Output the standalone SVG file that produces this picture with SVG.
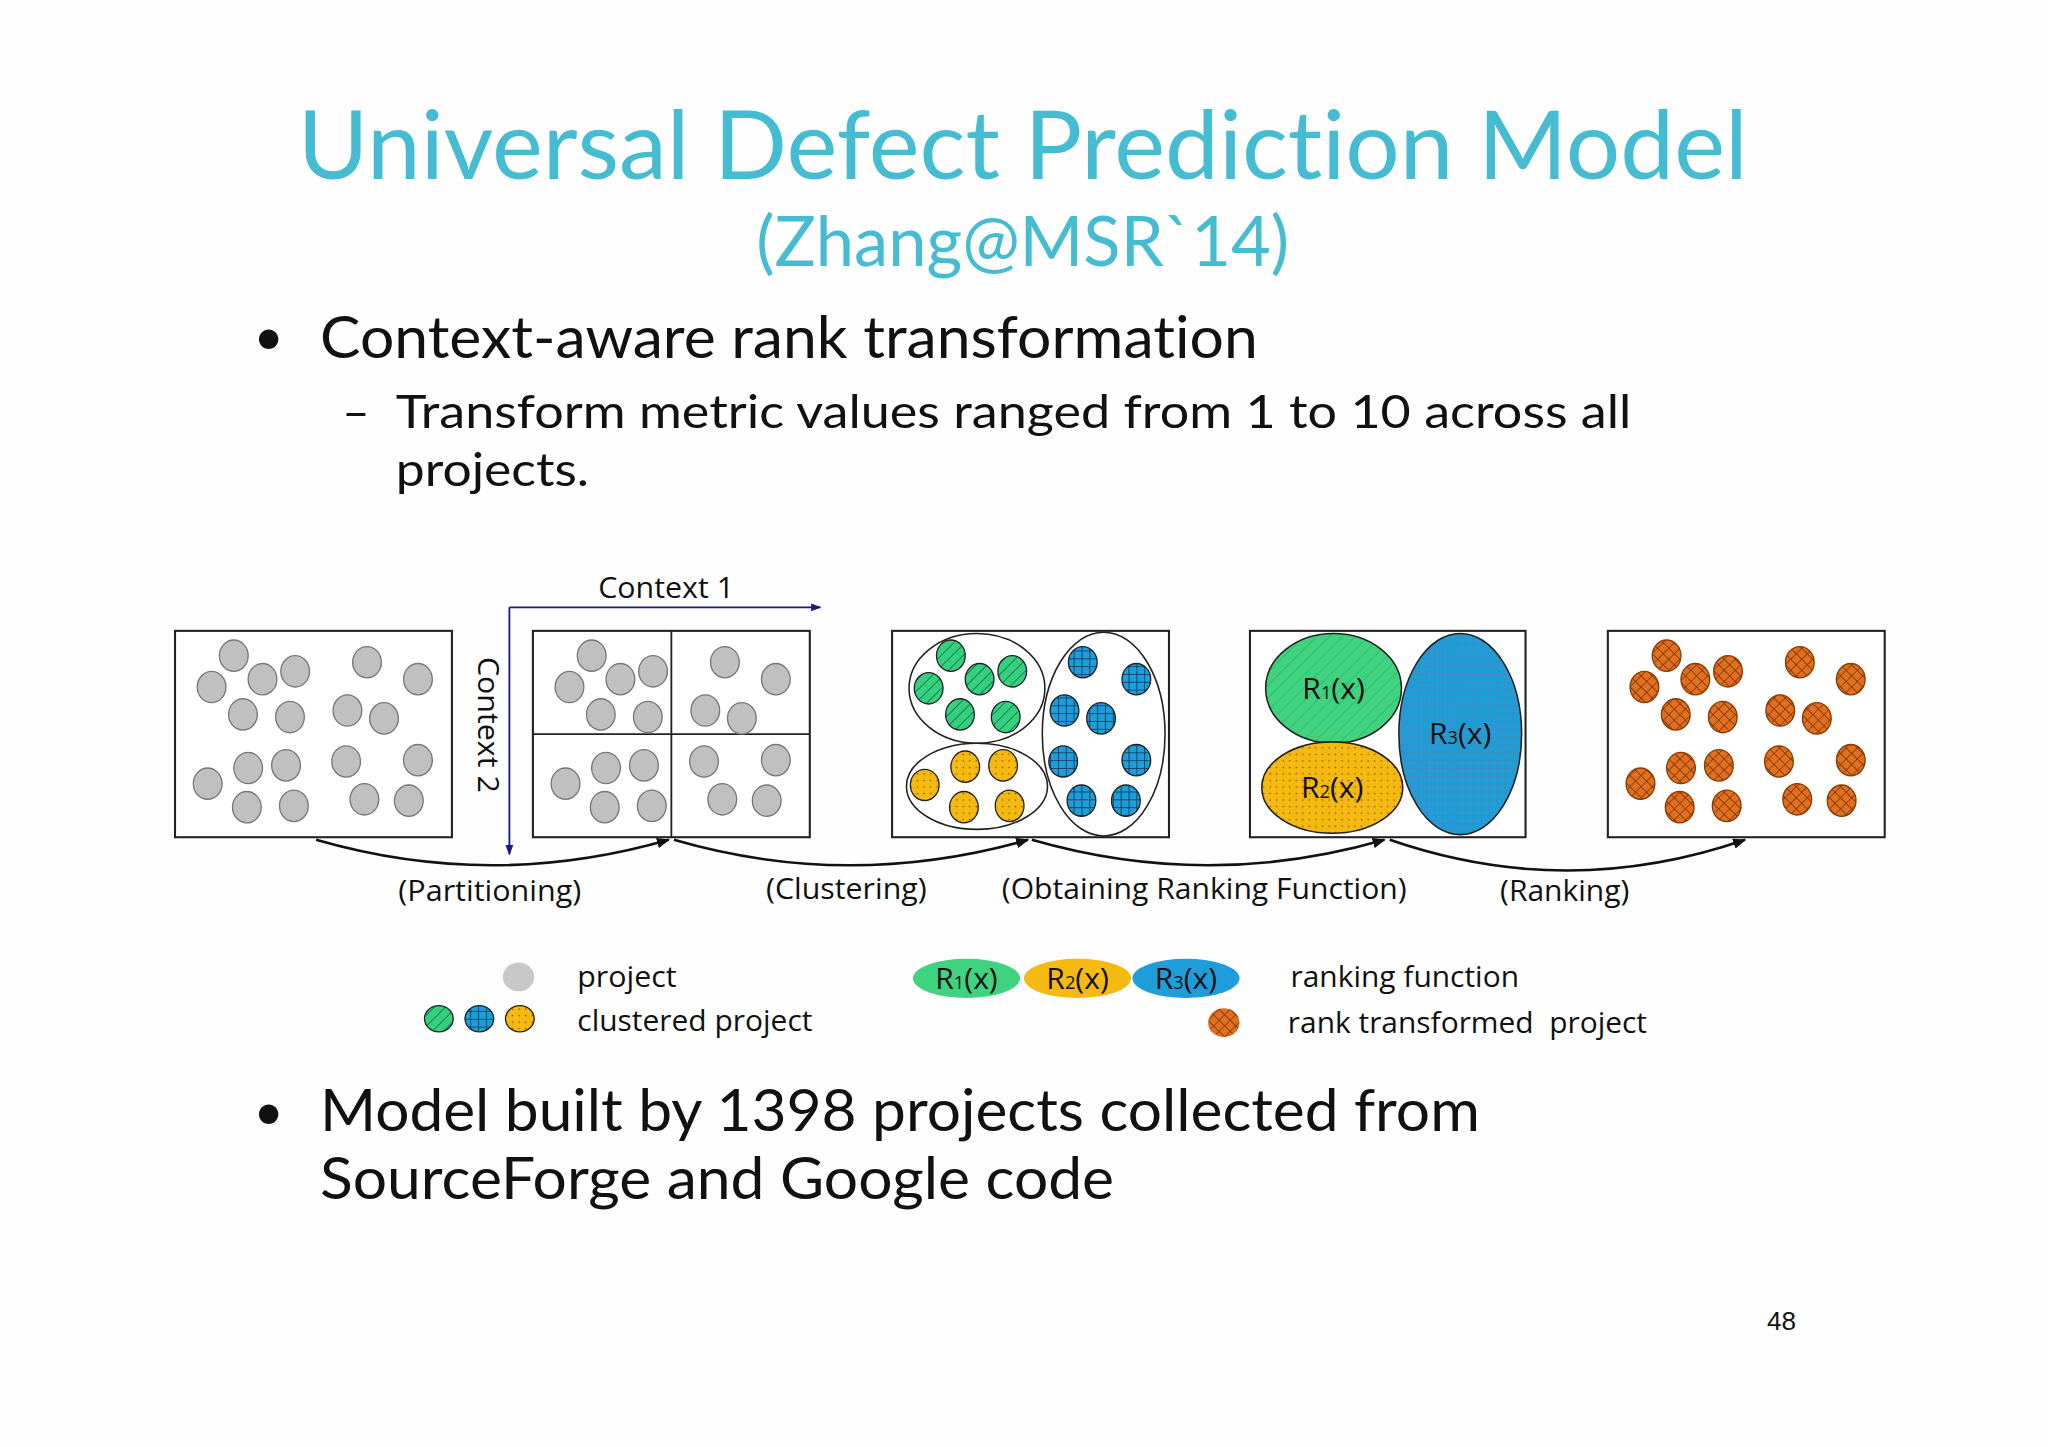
<svg xmlns="http://www.w3.org/2000/svg" width="2048" height="1447" viewBox="0 0 2048 1447">
<style>
.t{font-family:Lato,"Open Sans",sans-serif;font-variant-ligatures:none;font-feature-settings:"liga" 0,"dlig" 0}
.c{font-family:"Open Sans","Liberation Sans",sans-serif;font-size:23px;fill:#111}
.box{fill:#fff;stroke:#222;stroke-width:1.6}
.g{fill:#c0c0c0;stroke:#777;stroke-width:1}
.gr{fill:url(#hatch);stroke:#222;stroke-width:1}
.bl{fill:url(#grid);stroke:#222;stroke-width:1}
.or{fill:url(#dots);stroke:#222;stroke-width:1}
.br{fill:url(#xh);stroke:#8a3a00;stroke-width:1}
.conn{fill:none;stroke:#111;stroke-width:2;marker-end:url(#ah)}
.ell{fill:none;stroke:#222;stroke-width:1.2}
</style>
<defs>
<pattern id="hatch" width="6" height="6" patternUnits="userSpaceOnUse" patternTransform="rotate(45)"><rect width="6" height="6" fill="#33d17f"/><line x1="0" y1="0" x2="0" y2="6" stroke="#1d6b3f" stroke-width="1.3"/></pattern>
<pattern id="hatchL" width="7" height="7" patternUnits="userSpaceOnUse" patternTransform="rotate(45)"><rect width="7" height="7" fill="#3fd37f"/><line x1="0" y1="0" x2="0" y2="7" stroke="#2aa860" stroke-width="0.8"/></pattern>
<pattern id="grid" width="6" height="6" patternUnits="userSpaceOnUse"><rect width="6" height="6" fill="#1e9ddb"/><path d="M0 0H6M0 0V6" stroke="#10314a" stroke-width="1.2"/></pattern>
<pattern id="gridL" width="6" height="6" patternUnits="userSpaceOnUse"><rect width="6" height="6" fill="#1e9ddb"/><path d="M0 0H6M0 0V6" stroke="#5d7f96" stroke-width="0.8"/></pattern>
<pattern id="dots" width="5" height="5" patternUnits="userSpaceOnUse"><rect width="5" height="5" fill="#f6b90f"/><circle cx="2.5" cy="2.5" r="0.6" fill="#6b4d00"/></pattern>
<pattern id="xh" width="6" height="6" patternUnits="userSpaceOnUse" patternTransform="rotate(45)"><rect width="6" height="6" fill="#e07020"/><path d="M0 0H6M0 0V6" stroke="#6b2c00" stroke-width="1"/></pattern>
<marker id="ah" markerWidth="10" markerHeight="8" refX="9" refY="4" orient="auto" markerUnits="userSpaceOnUse"><path d="M0 0L10 4L0 8Z" fill="#111"/></marker>
<marker id="ahb" markerWidth="8" markerHeight="6" refX="7" refY="3" orient="auto" markerUnits="userSpaceOnUse"><path d="M0 0L8 3L0 6Z" fill="#1a1a80"/></marker>
<g id="pts">
<ellipse cx="45" cy="19" rx="11" ry="12"/><ellipse cx="28" cy="43" rx="11" ry="12"/><ellipse cx="67" cy="37" rx="11" ry="12"/><ellipse cx="92" cy="31" rx="11" ry="12"/><ellipse cx="52" cy="64" rx="11" ry="12"/><ellipse cx="88" cy="66" rx="11" ry="12"/><ellipse cx="147" cy="24" rx="11" ry="12"/><ellipse cx="186" cy="37" rx="11" ry="12"/><ellipse cx="132" cy="61" rx="11" ry="12"/><ellipse cx="160" cy="67" rx="11" ry="12"/><ellipse cx="25" cy="117" rx="11" ry="12"/><ellipse cx="56" cy="105" rx="11" ry="12"/><ellipse cx="85" cy="103" rx="11" ry="12"/><ellipse cx="55" cy="135" rx="11" ry="12"/><ellipse cx="91" cy="134" rx="11" ry="12"/><ellipse cx="131" cy="100" rx="11" ry="12"/><ellipse cx="186" cy="99" rx="11" ry="12"/><ellipse cx="145" cy="129" rx="11" ry="12"/><ellipse cx="179" cy="130" rx="11" ry="12"/>
</g>
</defs>
<rect width="2048" height="1447" fill="#fefefe"/>
<g transform="scale(1.30612)">
<g id="title">
<text class="t" x="783" y="137" text-anchor="middle" font-size="72" fill="#45bcd2" textLength="1110" lengthAdjust="spacingAndGlyphs">Universal Defect Prediction Model</text>
<text class="t" x="783" y="204" text-anchor="middle" font-size="54" fill="#45bcd2" textLength="408" lengthAdjust="spacingAndGlyphs">(Zhang@MSR`14)</text>
</g>
<g id="bullets" class="t" fill="#111">
<text x="194" y="272" font-size="40">•</text>
<text x="245" y="274" font-size="44" textLength="718" lengthAdjust="spacingAndGlyphs">Context-aware rank transformation</text>
<text x="262" y="328" font-size="36">–</text>
<text x="303" y="328" font-size="36" textLength="946" lengthAdjust="spacingAndGlyphs">Transform metric values ranged from 1 to 10 across all</text>
<text x="303" y="372" font-size="36" textLength="148" lengthAdjust="spacingAndGlyphs">projects.</text>
<text x="194" y="865" font-size="40">•</text>
<text x="245" y="866" font-size="44" textLength="888" lengthAdjust="spacingAndGlyphs">Model built by 1398 projects collected from</text>
<text x="245" y="918" font-size="44" textLength="608" lengthAdjust="spacingAndGlyphs">SourceForge and Google code</text>
<text x="1364" y="1018" font-size="20" text-anchor="middle" font-family="Liberation Sans,sans-serif">48</text>
</g>
<g id="box1"><rect class="box" x="134" y="483" width="212" height="158"/><use href="#pts" x="134" y="483" class="g"/></g>
<g id="box2"><rect class="box" x="408" y="483" width="212" height="158"/><line x1="514" y1="483" x2="514" y2="641" stroke="#222" stroke-width="1.4"/><line x1="408" y1="562" x2="620" y2="562" stroke="#222" stroke-width="1.4"/><use href="#pts" x="408" y="483" class="g"/></g>
<g id="context">
<path d="M390 465H628" stroke="#1a1a80" stroke-width="1.4" fill="none" marker-end="url(#ahb)"/>
<path d="M390 465V654" stroke="#1a1a80" stroke-width="1.4" fill="none" marker-end="url(#ahb)"/>
<text class="c" x="510" y="458" text-anchor="middle" textLength="104" lengthAdjust="spacingAndGlyphs">Context 1</text>
<text class="c" transform="translate(366 555) rotate(90)" text-anchor="middle" textLength="104" lengthAdjust="spacingAndGlyphs">Context 2</text>
</g>
<g id="box3"><rect class="box" x="683" y="483" width="212" height="158"/>
<ellipse class="ell" cx="748" cy="527" rx="52" ry="42"/><ellipse class="ell" cx="748" cy="602" rx="54" ry="33"/><ellipse class="ell" cx="845" cy="562" rx="47" ry="78"/>
<g class="gr"><ellipse cx="728" cy="502" rx="11" ry="12"/><ellipse cx="711" cy="527" rx="11" ry="12"/><ellipse cx="750" cy="520" rx="11" ry="12"/><ellipse cx="775" cy="514" rx="11" ry="12"/><ellipse cx="735" cy="547" rx="11" ry="12"/><ellipse cx="770" cy="549" rx="11" ry="12"/></g>
<g class="bl"><ellipse cx="829" cy="507" rx="11" ry="12"/><ellipse cx="870" cy="520" rx="11" ry="12"/><ellipse cx="815" cy="544" rx="11" ry="12"/><ellipse cx="843" cy="550" rx="11" ry="12"/><ellipse cx="814" cy="583" rx="11" ry="12"/><ellipse cx="870" cy="582" rx="11" ry="12"/><ellipse cx="828" cy="613" rx="11" ry="12"/><ellipse cx="862" cy="613" rx="11" ry="12"/></g>
<g class="or"><ellipse cx="708" cy="601" rx="11" ry="12"/><ellipse cx="739" cy="587" rx="11" ry="12"/><ellipse cx="768" cy="586" rx="11" ry="12"/><ellipse cx="738" cy="618" rx="11" ry="12"/><ellipse cx="773" cy="617" rx="11" ry="12"/></g>
</g>
<g id="box4"><rect class="box" x="957" y="483" width="211" height="158"/>
<ellipse cx="1021" cy="527" rx="52" ry="42" fill="url(#hatchL)" stroke="#222" stroke-width="1.2"/>
<ellipse cx="1020" cy="603" rx="54" ry="35" fill="url(#dots)" stroke="#222" stroke-width="1.2"/>
<ellipse cx="1118" cy="562" rx="47" ry="77" fill="url(#gridL)" stroke="#222" stroke-width="1.2"/>
<text class="c" x="1021" y="535" text-anchor="middle">R<tspan font-size="14">1</tspan>(x)</text>
<text class="c" x="1020" y="611" text-anchor="middle">R<tspan font-size="14">2</tspan>(x)</text>
<text class="c" x="1118" y="570" text-anchor="middle">R<tspan font-size="14">3</tspan>(x)</text>
</g>
<g id="box5"><rect class="box" x="1231" y="483" width="212" height="158"/><use href="#pts" x="1231" y="483" class="br"/></g>
<g id="connectors">
<path class="conn" d="M242 643Q377 682 512 643"/>
<path class="conn" d="M516 643Q650 682 787 643"/>
<path class="conn" d="M790 643Q925 682 1060 643"/>
<path class="conn" d="M1064 643Q1200 690 1336 643"/>
</g>
<g id="labels">
<text class="c" x="375" y="690" text-anchor="middle" textLength="140" lengthAdjust="spacingAndGlyphs">(Partitioning)</text>
<text class="c" x="648" y="688" text-anchor="middle" textLength="123" lengthAdjust="spacingAndGlyphs">(Clustering)</text>
<text class="c" x="922" y="688" text-anchor="middle" textLength="310" lengthAdjust="spacingAndGlyphs">(Obtaining Ranking Function)</text>
<text class="c" x="1198" y="690" text-anchor="middle" textLength="99" lengthAdjust="spacingAndGlyphs">(Ranking)</text>
</g>
<g id="legend">
<ellipse cx="397" cy="748" rx="12" ry="11" fill="#c8c8c8"/>
<text class="c" x="442" y="756" textLength="76" lengthAdjust="spacingAndGlyphs">project</text>
<ellipse class="gr" cx="336" cy="780" rx="11" ry="10"/><ellipse class="bl" cx="367" cy="780" rx="11" ry="10"/><ellipse class="or" cx="398" cy="780" rx="11" ry="10" stroke="none"/>
<text class="c" x="442" y="789" textLength="180" lengthAdjust="spacingAndGlyphs">clustered project</text>
<ellipse cx="740" cy="749" rx="41" ry="15" fill="#3fd37f"/><text class="c" x="740" y="757" text-anchor="middle">R<tspan font-size="14">1</tspan>(x)</text>
<ellipse cx="825" cy="749" rx="41" ry="15" fill="#f6b90f"/><text class="c" x="825" y="757" text-anchor="middle">R<tspan font-size="14">2</tspan>(x)</text>
<ellipse cx="908" cy="749" rx="41" ry="15" fill="#1e9ddb"/><text class="c" x="908" y="757" text-anchor="middle">R<tspan font-size="14">3</tspan>(x)</text>
<text class="c" x="988" y="756" textLength="175" lengthAdjust="spacingAndGlyphs">ranking function</text>
<ellipse cx="937" cy="783" rx="12" ry="11" fill="url(#xh)"/>
<text class="c" x="986" y="791" xml:space="preserve" textLength="275" lengthAdjust="spacingAndGlyphs">rank transformed  project</text>
</g>
</g>
</svg>
